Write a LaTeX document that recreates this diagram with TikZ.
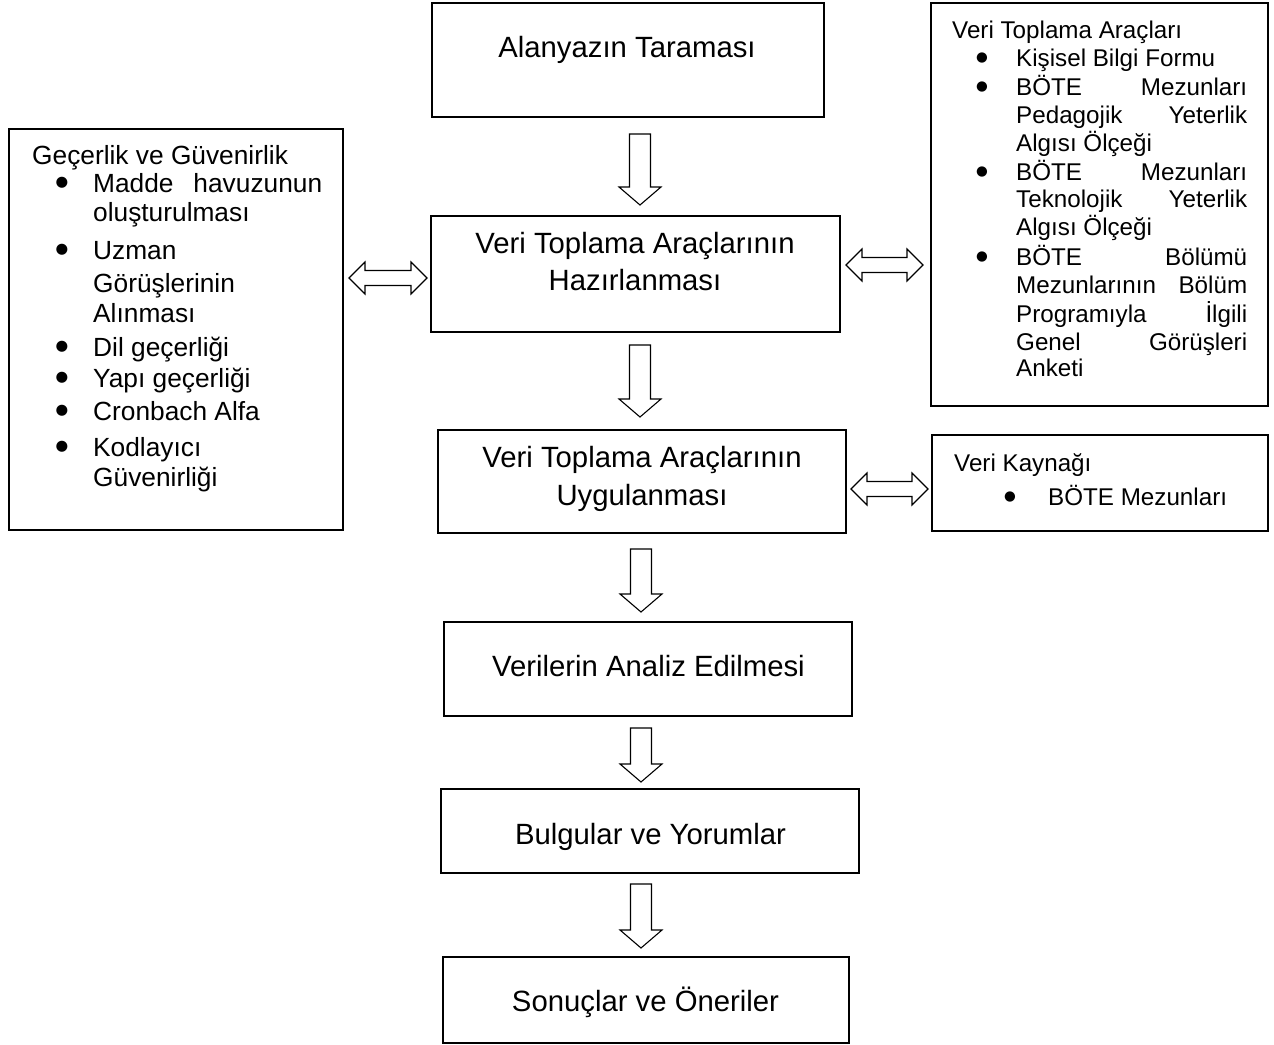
\documentclass[tikz,border=0pt]{standalone}
\usepackage{fontspec}
\setmainfont{Liberation Sans}
\newfontfamily\dejavu{DejaVu Sans}
\newcommand\DnArrow[3]{%
  \draw[blockarr] (#1-10.5,#2) -- (#1+10.5,#2) -- (#1+10.5,#3-18) -- (#1+21,#3-18)
    -- (#1,#3) -- (#1-21,#3-18) -- (#1-10.5,#3-18) -- cycle;}
\newcommand\LrArrow[3]{%
  \draw[blockarr] (#1,#3) -- (#1+16,#3-16) -- (#1+16,#3-7.5) -- (#2-16,#3-7.5)
    -- (#2-16,#3-16) -- (#2,#3) -- (#2-16,#3+16) -- (#2-16,#3+7.5)
    -- (#1+16,#3+7.5) -- (#1+16,#3+16) -- cycle;}
\begin{document}
\begin{tikzpicture}[x=1pt,y=-1pt,
  box/.style={draw, line width=1.6pt, inner sep=0pt},
  blockarr/.style={draw, line width=1.1pt, fill=white, line join=miter},
  maintxt/.style={font=\fontsize{29.3}{35}\selectfont, inner sep=0pt, anchor=base},
  rtxt/.style={font=\fontsize{24.2}{28}\selectfont, inner sep=0pt, anchor=base west},
  ltxt/.style={font=\fontsize{26.3}{31}\selectfont, inner sep=0pt, anchor=base west},
  rbul/.style={font=\dejavu\fontsize{13.5}{14}\selectfont, inner sep=0pt, anchor=center},
  lbul/.style={font=\dejavu\fontsize{14.5}{15}\selectfont, inner sep=0pt, anchor=center}]
\useasboundingbox (0,0) rectangle (1274,1044);

% main boxes
\node[box, minimum width=392pt, minimum height=114pt] (b1) at (628,60) {};
\node[box, minimum width=409pt, minimum height=116pt] (b2) at (635.5,274) {};
\node[box, minimum width=408pt, minimum height=103pt] (b3) at (642,481.5) {};
\node[box, minimum width=408pt, minimum height=94pt] (b4) at (648,669) {};
\node[box, minimum width=418pt, minimum height=84pt] (b5) at (650,831) {};
\node[box, minimum width=406pt, minimum height=86pt] (b6) at (646,1000) {};

\node[maintxt] (t1) at (627,57.5) {Alanyazın Taraması};
\node[maintxt] (t2a) at (635,253.5) {Veri Toplama Araçlarının};
\node[maintxt] (t2b) at (635,290.5) {Hazırlanması};
\node[maintxt] (t3a) at (642,467.5) {Veri Toplama Araçlarının};
\node[maintxt] (t3b) at (642,505.5) {Uygulanması};
\node[maintxt] (t4) at (648.5,676.5) {Verilerin Analiz Edilmesi};
\node[maintxt] (t5) at (650.5,844.5) {Bulgular ve Yorumlar};
\node[maintxt] (t6) at (645.5,1011.5) {Sonuçlar ve Öneriler};

% side boxes
\node[box, minimum width=334pt, minimum height=401pt] (lb) at (176,329.5) {};
\node[box, minimum width=337pt, minimum height=403pt] (rb1) at (1099.5,204.5) {};
\node[box, minimum width=336pt, minimum height=96pt] (rb2) at (1100,483) {};

% right top box text
\node[rtxt] (r0) at (952,38.5) {Veri Toplama Araçları};
\node[rbul] (rb1a) at (982,58) {●};
\node[rtxt] (r1) at (1016,66.5) {Kişisel Bilgi Formu};
\node[rbul] (rb1b) at (982,87) {●};
\node[rtxt] (r2) at (1016,95.5) {\hbox to 231pt{BÖTE\hfill Mezunları}};
\node[rtxt] (r3) at (1016,123.5) {\hbox to 231pt{Pedagojik\hfill Yeterlik}};
\node[rtxt] (r4) at (1016,151.5) {Algısı Ölçeği};
\node[rbul] (rb1c) at (982,172) {●};
\node[rtxt] (r5) at (1016,180.5) {\hbox to 231pt{BÖTE\hfill Mezunları}};
\node[rtxt] (r6) at (1016,207.5) {\hbox to 231pt{Teknolojik\hfill Yeterlik}};
\node[rtxt] (r7) at (1016,235.5) {Algısı Ölçeği};
\node[rbul] (rb1d) at (982,257) {●};
\node[rtxt] (r8) at (1016,265.5) {\hbox to 231pt{BÖTE\hfill Bölümü}};
\node[rtxt] (r9) at (1016,293.5) {\hbox to 231pt{Mezunlarının\hfill Bölüm}};
\node[rtxt] (r10) at (1016,322.5) {\hbox to 231pt{Programıyla\hfill İlgili}};
\node[rtxt] (r11) at (1016,350.5) {\hbox to 231pt{Genel\hfill Görüşleri}};
\node[rtxt] (r12) at (1016,376.5) {Anketi};

% right bottom box text
\node[rtxt] (s0) at (954,471.5) {Veri Kaynağı};
\node[rbul] (sb) at (1010,497) {●};
\node[rtxt] (s1) at (1048,505.5) {BÖTE Mezunları};

% left box text
\node[ltxt] (l0) at (32,164.5) {Geçerlik ve Güvenirlik};
\node[lbul] (lba) at (62,183) {●};
\node[ltxt] (l1) at (93,192.5) {\hbox to 229pt{Madde\hfill havuzunun}};
\node[ltxt] (l2) at (93,221.5) {oluşturulması};
\node[lbul] (lbb) at (62,250) {●};
\node[ltxt] (l3) at (93,259.5) {Uzman};
\node[ltxt] (l4) at (93,292.5) {Görüşlerinin};
\node[ltxt] (l5) at (93,322.5) {Alınması};
\node[lbul] (lbc) at (62,347) {●};
\node[ltxt] (l6) at (93,356.5) {Dil geçerliği};
\node[lbul] (lbd) at (62,378) {●};
\node[ltxt] (l7) at (93,387.5) {Yapı geçerliği};
\node[lbul] (lbe) at (62,411) {●};
\node[ltxt] (l8) at (93,420.5) {Cronbach Alfa};
\node[lbul] (lbf) at (62,447) {●};
\node[ltxt] (l9) at (93,456.5) {Kodlayıcı};
\node[ltxt] (l10) at (93,486.5) {Güvenirliği};

% block arrows
\DnArrow{640}{134}{205}
\DnArrow{640}{345}{417}
\DnArrow{641}{549}{612}
\DnArrow{641}{728}{782}
\DnArrow{641}{884}{948}
\LrArrow{349}{427}{278}
\LrArrow{846}{923}{265}
\LrArrow{851}{928}{489}
\end{tikzpicture}
\end{document}
